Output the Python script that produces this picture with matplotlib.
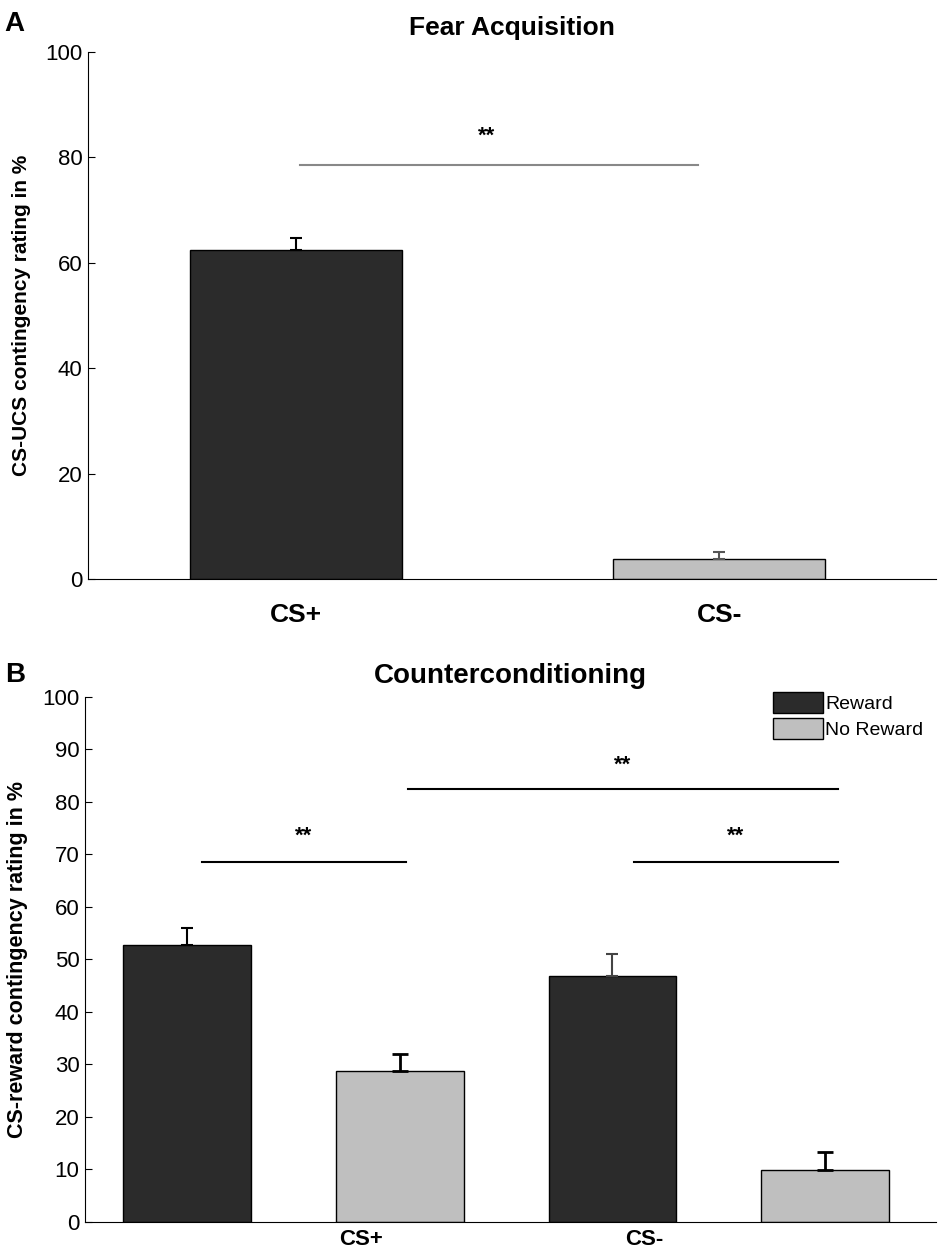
import numpy as np
import matplotlib.pyplot as plt

plt.rcParams['font.family'] = ['Liberation Sans', 'DejaVu Sans']

# panel A data
acq_labels = ['CS+', 'CS-']
acq_means = [62.5, 3.8]
acq_sem = [2.3, 1.4]

# panel B data
cc_groups = ['CS+', 'CS-']
reward_means = [52.8, 46.8]
reward_sem = [3.2, 4.2]
noreward_means = [28.7, 9.9]
noreward_sem = [3.3, 3.4]

dark = '#2b2b2b'
light = '#bfbfbf'


def up_err(ax, x, m, e, col, lw, cap):
    # only the upper half of the error bar is visible above the bar
    for xi, mi, ei, ci in zip(x, m, e, col):
        ax.errorbar([xi], [mi], yerr=[[0], [ei]], fmt='none', ecolor=ci,
                    elinewidth=lw, capsize=cap, capthick=lw)


fig = plt.figure(figsize=(9.45, 12.59), dpi=100)

# ---------- A ----------
ax1 = fig.add_axes([0.093, 0.540, 0.897, 0.4187])
xa = np.array([1, 2])
ax1.bar(xa, acq_means, width=0.5, color=[dark, light], edgecolor='black', linewidth=1)
up_err(ax1, xa, acq_means, acq_sem, ['black', '#555555'], 1.5, 4)
ax1.plot([1.01, 1.95], [78.6, 78.6], color='#888888', linewidth=1.5)
ax1.text(1.45, 82, '**', ha='center', va='bottom', fontsize=16, fontweight='bold')
ax1.set_xlim(0.51, 2.51)
ax1.set_ylim(0, 100)
ax1.set_yticks(np.arange(0, 101, 20))
ax1.set_xticks(xa)
ax1.set_xticklabels(acq_labels, fontsize=19, fontweight='bold')
ax1.tick_params(axis='x', length=0, pad=17)
ax1.tick_params(axis='y', direction='in', length=5, labelsize=16, pad=4)
ax1.spines['top'].set_visible(False)
ax1.spines['right'].set_visible(False)
ax1.set_ylabel('CS-UCS contingency rating in %', fontsize=15, fontweight='bold', labelpad=10)
ax1.set_title('Fear Acquisition', fontsize=19, fontweight='bold', pad=12)
fig.text(0.005, 0.975, 'A', fontsize=20, fontweight='bold')

# ---------- B ----------
ax2 = fig.add_axes([0.090, 0.0294, 0.900, 0.417])
xr = np.array([1, 3])
xn = np.array([2, 4])
ax2.bar(xr, reward_means, width=0.6, color=dark, edgecolor='black', linewidth=1, label='Reward')
ax2.bar(xn, noreward_means, width=0.6, color=light, edgecolor='black', linewidth=1, label='No Reward')
up_err(ax2, xr, reward_means, reward_sem, ['black', '#444444'], 1.5, 4)
up_err(ax2, xn, noreward_means, noreward_sem, ['black', 'black'], 2, 6)
ax2.plot([2.04, 4.06], [82.5, 82.5], color='black', linewidth=1.5)
ax2.plot([1.07, 2.03], [68.6, 68.6], color='black', linewidth=1.5)
ax2.plot([3.10, 4.06], [68.6, 68.6], color='black', linewidth=1.5)
ax2.text(3.05, 85, '**', ha='center', va='bottom', fontsize=16, fontweight='bold')
ax2.text(1.55, 71.5, '**', ha='center', va='bottom', fontsize=16, fontweight='bold')
ax2.text(3.58, 71.5, '**', ha='center', va='bottom', fontsize=16, fontweight='bold')
ax2.set_xlim(0.52, 4.52)
ax2.set_ylim(0, 100)
ax2.set_yticks(np.arange(0, 101, 10))
ax2.set_xticks([1.82, 3.15])
ax2.set_xticklabels(cc_groups, fontsize=16, fontweight='bold')
ax2.tick_params(axis='x', length=0, pad=5)
ax2.tick_params(axis='y', direction='in', length=5, labelsize=16, pad=4)
ax2.spines['top'].set_visible(False)
ax2.spines['right'].set_visible(False)
ax2.set_ylabel('CS-reward contingency rating in %', fontsize=15.5, fontweight='bold', labelpad=10)
ax2.set_title('Counterconditioning', fontsize=20, fontweight='bold', pad=10)
ax2.legend(loc='upper right', bbox_to_anchor=(0.995, 1.025), frameon=False, fontsize=14,
           handlelength=2.6, handleheight=1.3, handletextpad=0.1, labelspacing=0.25,
           borderaxespad=0)
fig.text(0.005, 0.458, 'B', fontsize=20, fontweight='bold')

plt.savefig('out.png', dpi=100)
